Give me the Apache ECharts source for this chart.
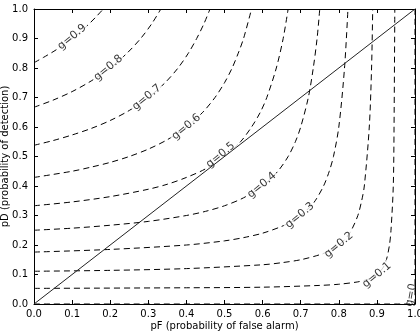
<!DOCTYPE html>
<html>
<head>
<meta charset="utf-8">
<script src="https://cdn.jsdelivr.net/npm/echarts@6/dist/echarts.min.js"></script>
<style>
  html, body { margin: 0; padding: 0; background: #fff; }
  #chart { width: 420px; height: 333px; }
</style>
</head>
<body>
<div id="chart"></div>
<script>
// contour lines of g, [pF, pD]
var g90 = [[0,0.818],[0.025,0.836],[0.05,0.855],[0.075,0.876],[0.1,0.9],[0.124,0.925],[0.145,0.95],[0.164,0.975],[0.182,1]]
var g80 = [[0,0.667],[0.05,0.691],[0.1,0.72],[0.15,0.756],[0.2,0.8],[0.244,0.85],[0.28,0.9],[0.309,0.95],[0.333,1]]
var g70 = [[0,0.538],[0.05,0.554],[0.1,0.573],[0.15,0.595],[0.2,0.622],[0.25,0.656],[0.3,0.7],[0.344,0.75],[0.378,0.8],[0.405,0.85],[0.427,0.9],[0.446,0.95],[0.462,1]]
var g60 = [[0,0.429],[0.1,0.45],[0.15,0.464],[0.2,0.48],[0.25,0.5],[0.3,0.525],[0.35,0.557],[0.4,0.6],[0.443,0.65],[0.475,0.7],[0.5,0.75],[0.52,0.8],[0.536,0.85],[0.55,0.9],[0.571,1]]
var g50 = [[0,0.333],[0.1,0.346],[0.2,0.364],[0.3,0.389],[0.35,0.406],[0.4,0.429],[0.45,0.458],[0.5,0.5],[0.542,0.55],[0.571,0.6],[0.594,0.65],[0.611,0.7],[0.636,0.8],[0.654,0.9],[0.667,1]]
var g40 = [[0,0.25],[0.1,0.257],[0.2,0.267],[0.3,0.28],[0.4,0.3],[0.45,0.314],[0.5,0.333],[0.55,0.36],[0.6,0.4],[0.64,0.45],[0.667,0.5],[0.686,0.55],[0.7,0.6],[0.72,0.7],[0.733,0.8],[0.743,0.9],[0.75,1]]
var g30 = [[0,0.176],[0.2,0.185],[0.4,0.2],[0.5,0.214],[0.55,0.225],[0.6,0.24],[0.65,0.263],[0.675,0.279],[0.7,0.3],[0.721,0.325],[0.738,0.35],[0.76,0.4],[0.775,0.45],[0.786,0.5],[0.8,0.6],[0.815,0.8],[0.824,1]]
var g20 = [[0,0.111],[0.2,0.114],[0.4,0.12],[0.6,0.133],[0.65,0.14],[0.7,0.15],[0.75,0.167],[0.775,0.18],[0.8,0.2],[0.82,0.225],[0.833,0.25],[0.85,0.3],[0.86,0.35],[0.867,0.4],[0.88,0.6],[0.886,0.8],[0.889,1]]
var g10 = [[0,0.053],[0.4,0.055],[0.6,0.057],[0.75,0.063],[0.8,0.067],[0.85,0.075],[0.875,0.083],[0.888,0.09],[0.9,0.1],[0.91,0.113],[0.917,0.125],[0.925,0.15],[0.933,0.2],[0.937,0.25],[0.943,0.4],[0.945,0.6],[0.947,1]]
var g00 = [[0,0],[1,0],[1,1]]
var diagonal = [[0,0],[1,1]]

var labelText = ['g=0.9','g=0.8','g=0.7','g=0.6','g=0.5','g=0.4','g=0.3','g=0.2','g=0.1','g=0']
var labelPos = [[0.10,0.905],[0.195,0.80],[0.296,0.70],[0.40,0.60],[0.49,0.505],[0.598,0.403],[0.698,0.30],[0.80,0.20],[0.90,0.098],[0.99,0.03]]

var contours = [g90, g80, g70, g60, g50, g40, g30, g20, g10, g00]

var font = { fontFamily: 'DejaVu Sans', fontSize: 10, color: '#000' }

function axis (pos, show, margin, extra) {
    return Object.assign({
        type: 'value',
        position: pos,
        min: 0,
        max: 1,
        interval: 0.1,
        axisLine: { show: true, onZero: false, lineStyle: { color: '#000', width: 1 } },
        axisTick: { show: true, inside: true, length: 4, lineStyle: { color: '#000' } },
        axisLabel: Object.assign({ show: show, margin: margin, formatter: function (v) { return v.toFixed(1) } }, font),
        splitLine: { show: false }
    }, extra || {})
}

var series = contours.map(function (c) {
    return {
        type: 'line',
        data: c,
        smooth: 0.3,
        symbol: 'none',
        z: 2,
        lineStyle: { color: '#000', width: 1, type: [6, 4] }
    }
})

series.push({
    type: 'scatter',
    symbolSize: 1,
    z: 3,
    itemStyle: { color: 'rgba(0,0,0,0)' },
    label: Object.assign({}, font, {
        show: true,
        position: 'inside',
        rotate: 40,
        fontSize: 11,
        backgroundColor: '#fff',
        padding: [0, 2],
        formatter: function (p) { return p.data.name }
    }),
    data: labelPos.map(function (p, i) {
        var d = { name: labelText[i], value: p }
        if (labelText[i] === 'g=0') d.label = { rotate: 80, backgroundColor: 'transparent' }
        return d
    })
})

series.push({
    type: 'line',
    data: diagonal,
    symbol: 'none',
    z: 4,
    lineStyle: { color: '#222', width: 1 }
})

var chart = echarts.init(document.getElementById('chart'))
chart.setOption({
    animation: false,
    grid: { left: 34, right: 5, top: 9, bottom: 29, containLabel: false, outerBoundsMode: 'none' },
    xAxis: [
        axis('bottom', true, 5, {
            name: 'pF (probability of false alarm)',
            nameLocation: 'middle',
            nameGap: 17,
            nameMoveOverlap: false,
            nameTextStyle: font
        }),
        axis('top', false, 5)
    ],
    yAxis: [
        axis('left', true, 6, {
            name: 'pD (probability of detection)',
            nameLocation: 'middle',
            nameGap: 24,
            nameMoveOverlap: false,
            nameTextStyle: font
        }),
        axis('right', false, 6)
    ],
    series: series
})
</script>
</body>
</html>
